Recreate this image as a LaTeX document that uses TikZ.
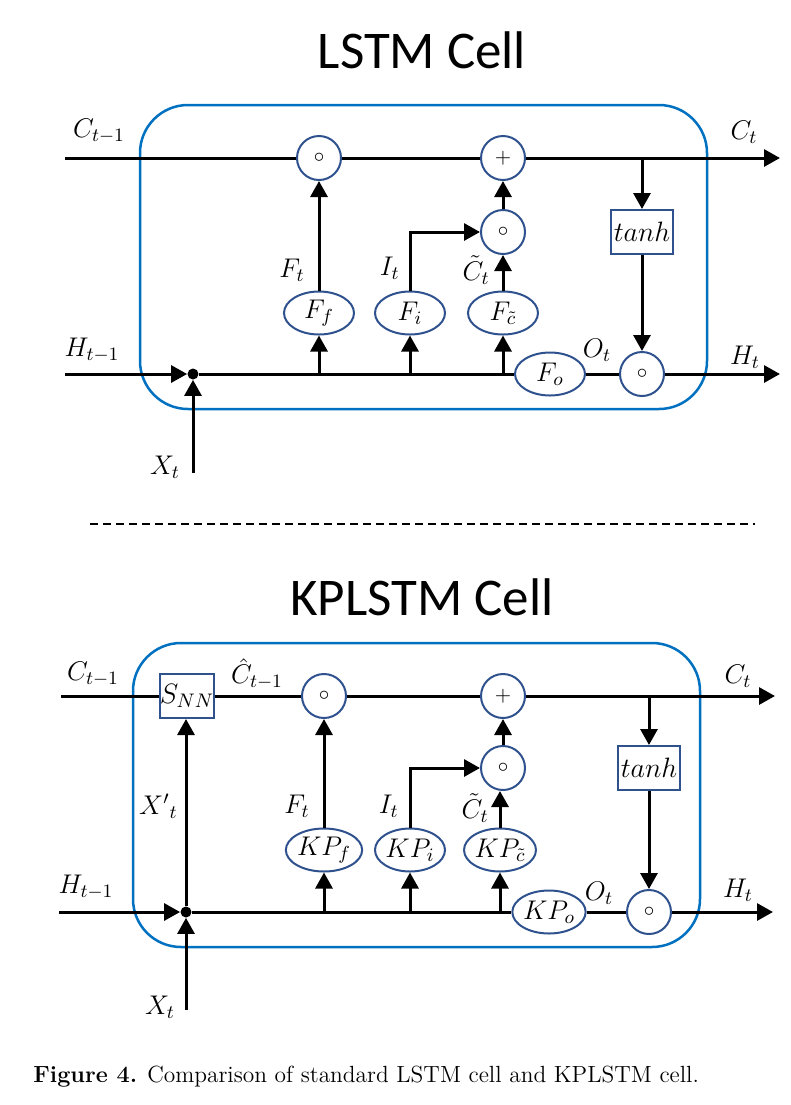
\RequirePackage{fix-cm}
\documentclass[tikz,border=0pt]{standalone}
\usepackage{fontspec}
\newfontfamily\headfont{Carlito}
\usepackage{tikz}
\usetikzlibrary{positioning, arrows.meta, shapes.geometric}
\definecolor{cellblue}{RGB}{0,112,192}
\definecolor{gateblue}{RGB}{47,82,143}

\begin{document}
\begin{tikzpicture}[
    x=0.5pt, y=-0.5pt,
    >={Triangle[length=8pt, width=8.5pt]},
    flow/.style={line width=1.5pt},
    cell/.style={draw=cellblue, line width=1.25pt, rounded corners=24pt},
    gate/.style={ellipse, draw=gateblue, line width=1pt, fill=white, inner sep=0pt, minimum width=35pt, minimum height=21.5pt, font=\fontsize{13.5}{16}\selectfont},
    op/.style={circle, draw=gateblue, line width=1pt, fill=white, inner sep=0pt, minimum size=22pt, font=\fontsize{10.5}{12}\selectfont},
    func/.style={draw=gateblue, line width=1pt, fill=white, inner sep=0pt, minimum height=22pt, font=\fontsize{14}{16}\selectfont},
    lbl/.style={inner sep=0pt, font=\fontsize{13.5}{16}\selectfont},
    heading/.style={font=\headfont\fontsize{26.5}{30}\selectfont},
    junc/.style={circle, fill, inner sep=0pt, minimum size=5.5pt}
]
\useasboundingbox (0,0) rectangle (791,1105);

% Cella LSTM
\node[heading] (titleA) at (422,50) {LSTM Cell};
\draw[cell] (140,105) rectangle (707,409);

\coordinate (cinA) at (65,158);
\coordinate (coutA) at (780,158);
\coordinate (hinA) at (65,374);
\coordinate (houtA) at (780,374);
\coordinate (xinA) at (193,473);

\node[op] (fgA) at (319,158) {$\circ$};
\node[op] (addA) at (503,158) {$+$};
\node[op] (mulA) at (503,232) {$\circ$};
\node[func, minimum width=31pt] (tanhA) at (642,232) {$tanh$};
\node[op] (outA) at (642,374) {$\circ$};
\node[gate] (FfA) at (319,313) {$F_f$};
\node[gate] (FiA) at (410,313) {$F_i$};
\node[gate] (FcA) at (503,313) {$F_{\tilde{c}}$};
\node[gate] (FoA) at (550,374) {$F_o$};
\node[junc] (jA) at (193,374) {};

% Linee di stato
\draw[flow] (cinA) -- (fgA) -- (addA);
\draw[flow, ->] (addA) -- (coutA);
\draw[flow, ->] (hinA) -- (jA);
\draw[flow] (jA) -- (FoA) -- (outA);
\draw[flow, ->] (outA) -- (houtA);
\draw[flow, ->] (xinA) -- (jA);

% Porte
\draw[flow, ->] (FfA |- jA) -- (FfA);
\draw[flow, ->] (FiA |- jA) -- (FiA);
\draw[flow, ->] (FcA |- jA) -- (FcA);
\draw[flow, ->] (FfA) -- (fgA);
\draw[flow, ->] (FiA) |- (mulA);
\draw[flow, ->] (FcA) -- (mulA);
\draw[flow, ->] (mulA) -- (addA);
\draw[flow, ->] (tanhA |- addA) -- (tanhA);
\draw[flow, ->] (tanhA) -- (outA);

% Etichette
\node[lbl] (lcinA) at (99,131) {$C_{t-1}$};
\node[lbl] (lcoutA) at (744,132) {$C_t$};
\node[lbl] (lhinA) at (92,350) {$H_{t-1}$};
\node[lbl] (lhoutA) at (745,357) {$H_t$};
\node[lbl] (lxA) at (165,467) {$X_t$};
\node[lbl, anchor=east] (lfA) at (305,270) {$F_t$};
\node[lbl, anchor=east] (liA) at (400,268) {$I_t$};
\node[lbl, anchor=east] (lcA) at (490,270) {$\tilde{C}_t$};
\node[lbl] (loA) at (597,350) {$O_t$};

% Separatore
\coordinate (sepL) at (90,524);
\coordinate (sepR) at (755,524);
\draw[line width=0.75pt, dash pattern=on 4pt off 2.5pt] (sepL) -- (sepR);

% Cella KPLSTM
\node[heading] (titleB) at (422,597) {KPLSTM Cell};
\draw[cell] (133,643) rectangle (700,947);

\coordinate (cinB) at (61,696);
\coordinate (coutB) at (775,696);
\coordinate (hinB) at (59,912);
\coordinate (houtB) at (773,912);
\coordinate (xinB) at (186,1010);

\node[func, minimum width=27pt] (snnB) at (187,696) {$S_{NN}$};
\node[op] (fgB) at (324,696) {$\circ$};
\node[op] (addB) at (503,696) {$+$};
\node[op] (mulB) at (503,768) {$\circ$};
\node[func, minimum width=31pt] (tanhB) at (649,768) {$tanh$};
\node[op] (outB) at (649,912) {$\circ$};
\node[gate] (KPfB) at (324,850) {$KP_f$};
\node[gate] (KPiB) at (410,850) {$KP_i$};
\node[gate] (KPcB) at (500,850) {$KP_{\tilde{c}}$};
\node[gate] (KPoB) at (549,912) {$KP_o$};
\node[junc] (jB) at (186,912) {};

% Linee di stato
\draw[flow] (cinB) -- (snnB) -- (fgB) -- (addB);
\draw[flow, ->] (addB) -- (coutB);
\draw[flow, ->] (hinB) -- (jB);
\draw[flow] (jB) -- (KPoB) -- (outB);
\draw[flow, ->] (outB) -- (houtB);
\draw[flow, ->] (xinB) -- (jB);
\draw[flow, ->] (jB) -- (jB |- snnB.south);

% Porte
\draw[flow, ->] (KPfB |- jB) -- (KPfB);
\draw[flow, ->] (KPiB |- jB) -- (KPiB);
\draw[flow, ->] (KPcB |- jB) -- (KPcB);
\draw[flow, ->] (KPfB) -- (fgB);
\draw[flow, ->] (KPiB) |- (mulB);
\draw[flow, ->] (KPcB) -- (KPcB |- mulB.south);
\draw[flow, ->] (mulB) -- (addB);
\draw[flow, ->] (tanhB |- addB) -- (tanhB);
\draw[flow, ->] (tanhB) -- (outB);

% Etichette
\node[lbl] (lcinB) at (93,674) {$C_{t-1}$};
\node[lbl] (lchatB) at (257,674) {$\hat{C}_{t-1}$};
\node[lbl] (lcoutB) at (738,676) {$C_t$};
\node[lbl] (lhinB) at (86,887) {$H_{t-1}$};
\node[lbl] (lhoutB) at (738,890) {$H_t$};
\node[lbl, anchor=east] (lxpB) at (178,806) {${X'}_t$};
\node[lbl] (lxB) at (160,1007) {$X_t$};
\node[lbl, anchor=east] (lfB) at (310,806) {$F_t$};
\node[lbl, anchor=east] (liB) at (399,806) {$I_t$};
\node[lbl, anchor=east] (lcB) at (489,808) {$\tilde{C}_t$};
\node[lbl] (loB) at (599,893) {$O_t$};

% Didascalia
\node[anchor=west, inner sep=0pt, font=\fontsize{11.7}{14}\selectfont] (caption) at (33,1077)
    {\textbf{Figure 4.} Comparison of standard LSTM cell and KPLSTM cell.};

\end{tikzpicture}
\end{document}
